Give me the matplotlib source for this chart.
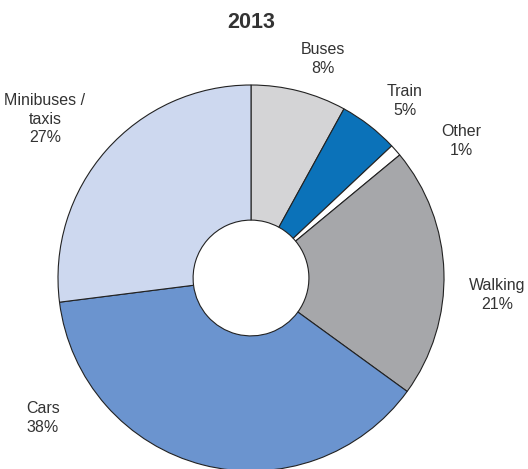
import matplotlib
matplotlib.use('Agg')
import matplotlib.pyplot as plt

# data
categories = ['Buses', 'Train', 'Other', 'Walking', 'Cars', 'Minibuses /\ntaxis']
shares = [8, 5, 1, 21, 38, 27]
colours = ['#d4d4d6', '#0b72b9', '#ffffff', '#a6a7aa', '#6b94cf', '#cdd8ef']
title = '2013'

# label centres in pixels (layout only)
label_px = [(323, 59), (405, 101), (461, 141), (497, 295), (43, 418), (45, 119)]

fam = 'Liberation Sans'

W, H = 528, 469
cx, cy, r = 251, 278, 193

fig = plt.figure(figsize=(W / 100, H / 100), dpi=100)
ax = fig.add_axes([(cx - r) / W, (H - cy - r) / H, 2 * r / W, 2 * r / H])
ax.pie(shares, colors=colours, startangle=90, counterclock=False, radius=1,
       wedgeprops=dict(width=0.7, edgecolor='#222222', linewidth=0.8))
ax.set_xlim(-1, 1)
ax.set_ylim(-1, 1)
ax.axis('off')

for name, val, (px, py) in zip(categories, shares, label_px):
    fig.text(px / W, 1 - py / H, name + '\n' + str(val) + '%', ha='center', va='center',
             fontsize=11.5, family=fam, color='#333333', linespacing=1.3)

fig.text(cx / W, 1 - 22 / H, title, ha='center', va='center', fontsize=15.5,
         fontweight='bold', family=fam, color='#333333')

fig.savefig('out.png', dpi=100)
